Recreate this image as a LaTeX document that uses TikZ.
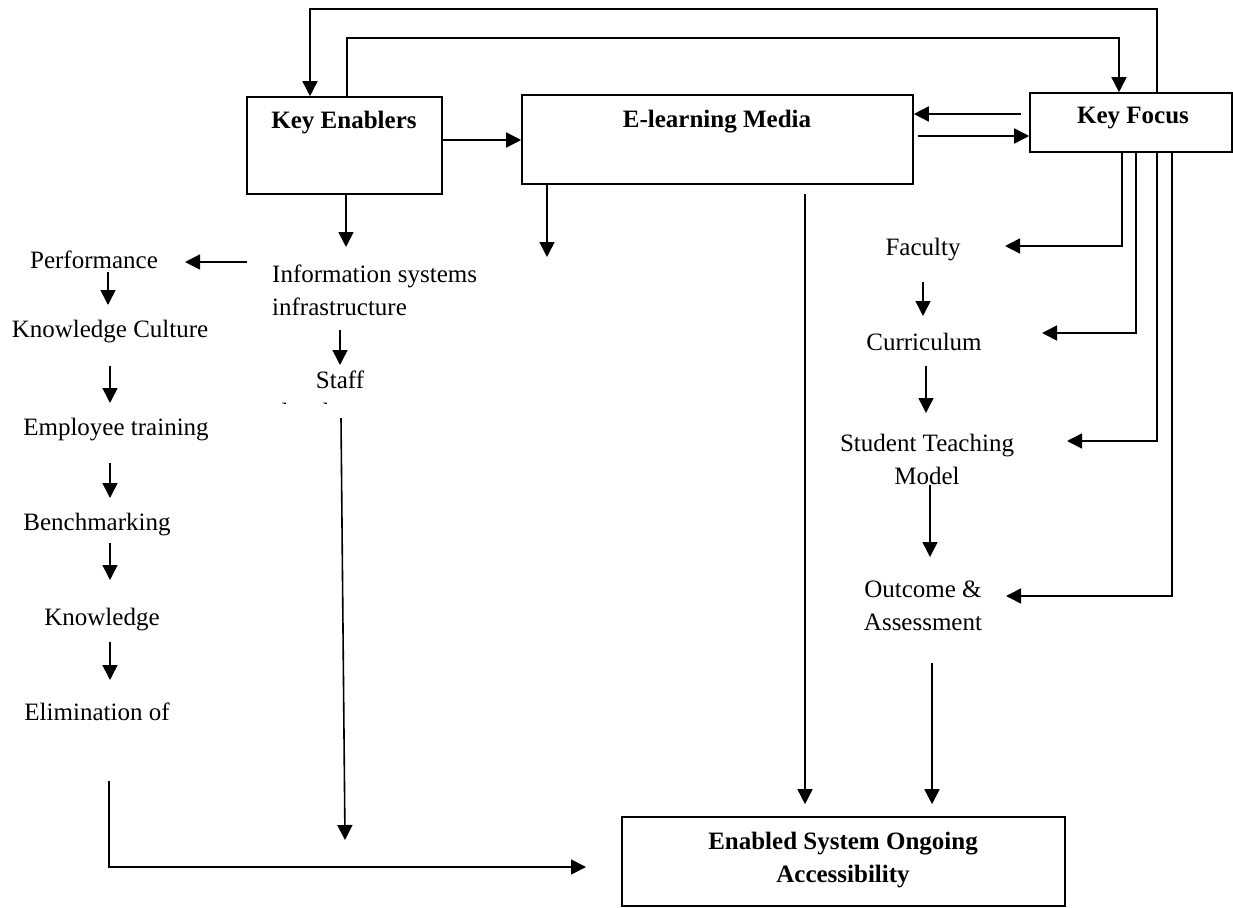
\documentclass[tikz,border=0pt]{standalone}
\usepackage{fontspec}
\setmainfont{Liberation Serif}
\usetikzlibrary{arrows.meta}
\begin{document}
\begin{tikzpicture}[x=1pt,y=-1pt,
  box/.style={draw, line width=1.6pt, inner sep=0pt},
  lbl/.style={font=\fontsize{25}{33}\selectfont, inner sep=0pt, align=center},
  blbl/.style={font=\fontsize{25}{33}\selectfont\bfseries, inner sep=0pt, align=center},
  ln/.style={line width=1.6pt},
  arr/.style={line width=1.6pt, -{Triangle[length=15pt,width=15pt]}}]
\useasboundingbox (0,0) rectangle (1233,907);

% boxes
\node[box, minimum width=195pt, minimum height=97pt] (ke) at (344.5,145.5) {};
\node[blbl] (keT) at (344,123) {Key Enablers};
\node[box, minimum width=391pt, minimum height=89pt] (el) at (717.5,139.5) {};
\node[blbl] (elT) at (717,122) {E-learning Media};
\node[box, minimum width=202pt, minimum height=59pt] (kf) at (1131,122.5) {};
\node[blbl] (kfT) at (1133,118) {Key Focus};
\node[box, minimum width=443pt, minimum height=89pt] (es) at (843.5,861.5) {};
\node[blbl] (esT) at (843,860) {Enabled System Ongoing\\Accessibility};

% left chain
\node[lbl] (perf) at (94,260) {Performance};
\node[lbl] (kc) at (110,332) {Knowledge Culture};
\node[lbl] (et) at (116,430) {Employee training};
\node[lbl] (bm) at (97,525) {Benchmarking};
\node[lbl] (kn) at (102,620) {Knowledge};
\node[lbl] (elim) at (97,712) {Elimination of};

% middle
\node[lbl, anchor=west, align=left] (isi) at (272,290) {Information systems\\infrastructure};
\node[lbl] (staff) at (340,380) {Staff};
\begin{scope}
  \clip (250,395) rectangle (420,403.5);
  \node[lbl] (dev) at (340,414) {development};
\end{scope}

% right chain
\node[lbl] (fac) at (923,250) {Faculty};
\node[lbl] (curr) at (924,342) {Curriculum};
\node[lbl] (stm) at (927,459) {Student Teaching\\Model};
\node[lbl] (out) at (923,606) {Outcome \&\\Assessment};

% free ends
\coordinate (facIn) at (1005,246);
\coordinate (currIn) at (1042,333);
\coordinate (stmIn) at (1067,441);
\coordinate (outIn) at (1006,596);
\coordinate (perfIn) at (185,262);
\coordinate (perfOut) at (247,262);
\coordinate (elDown) at (547,257);
\coordinate (keDown) at (346,247);
\coordinate (elimStart) at (109,781);
\coordinate (esLeftIn) at (586,867);
\coordinate (staffStart) at (341,418);
\coordinate (staffEnd) at (345,840);

% top loops
\draw[arr] (kf.north -| 1157,0) |- (310,9) -- (ke.north -| 310,0);
\draw[arr] (ke.north -| 347,0) |- (1119,38) -- (kf.north -| 1119,0);

% horizontal links
\draw[arr] (ke.east |- 0,140) -- (el.west |- 0,140);
\draw[arr, shorten <=8pt] (kf.west |- 0,114) -- (el.east |- 0,114);
\draw[arr, shorten <=4pt] (el.east |- 0,136) -- (kf.west |- 0,136);

% key focus fan
\draw[arr] (kf.south -| 1122,0) |- (facIn);
\draw[arr] (kf.south -| 1136,0) |- (currIn);
\draw[arr] (kf.south -| 1157,0) |- (stmIn);
\draw[arr] (kf.south -| 1172,0) |- (outIn);

% right chain arrows
\draw[arr] (923,282) -- (923,316);
\draw[arr] (926,366) -- (926,413);
\draw[arr] (930,485) -- (930,557);
\draw[arr, shorten >=12pt] (932,663) -- (es.north -| 932,0);
\draw[arr, shorten <=9pt, shorten >=12pt] (el.south -| 805,0) -- (es.north -| 805,0);

% downs from boxes
\draw[arr] (el.south -| 547,0) -- (elDown);
\draw[arr] (ke.south -| 346,0) -- (keDown);
\draw[arr] (perfOut) -- (perfIn);

% middle chain
\draw[arr] (340,330) -- (340,365);
\draw[arr] (staffStart) -- (staffEnd);

% left chain arrows
\draw[arr] (108,272) -- (108,305);
\draw[arr] (110,366) -- (110,403);
\draw[arr] (110,463) -- (110,498);
\draw[arr] (110,543) -- (110,580);
\draw[arr] (110,642) -- (110,680);
\draw[arr] (elimStart) |- (esLeftIn);
\end{tikzpicture}
\end{document}
